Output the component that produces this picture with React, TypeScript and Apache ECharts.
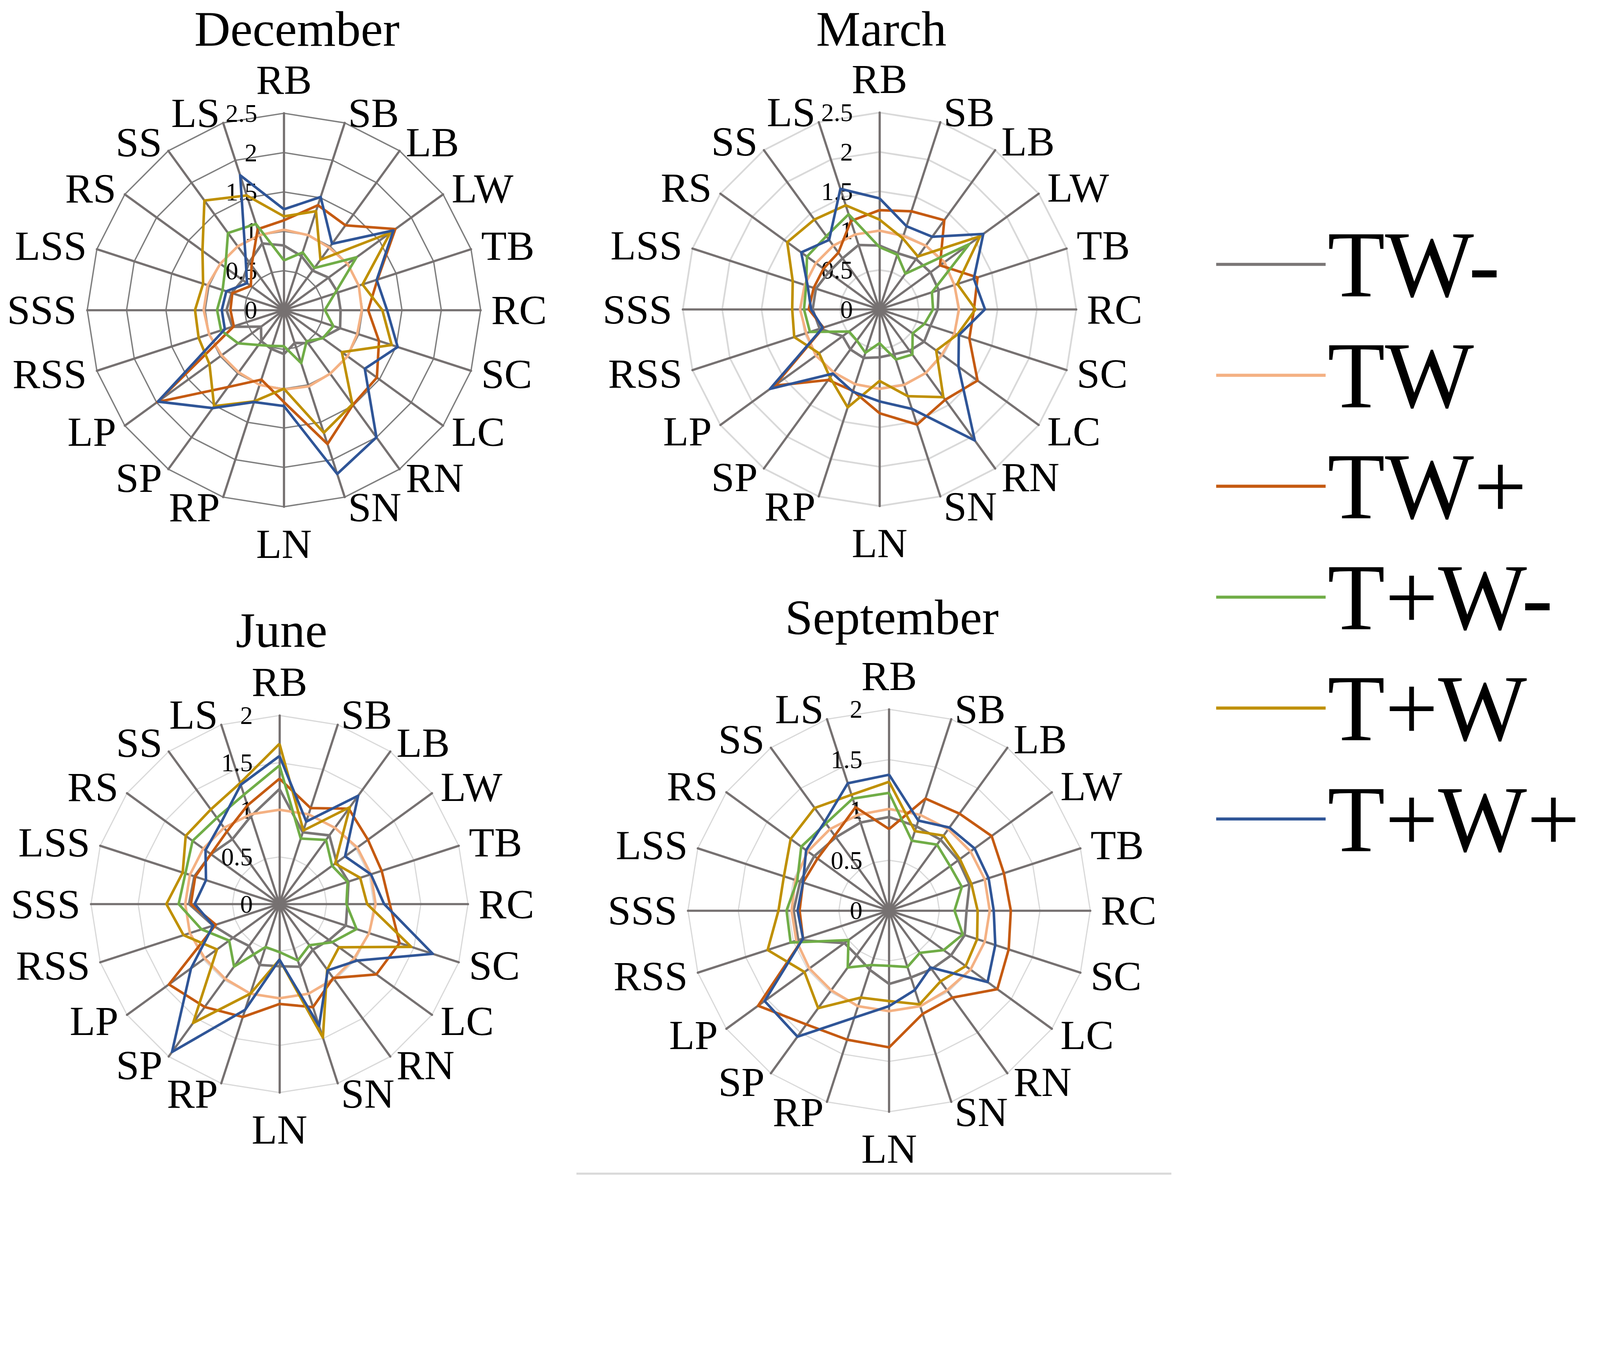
import React, { useEffect, useRef } from "react";
import * as echarts from "echarts";

// Axis categories, clockwise from the top
const axesCW = ["RB", "SB", "LB", "LW", "TB", "RC", "SC", "LC", "RN", "SN", "LN", "RP", "SP", "LP", "RSS", "SSS", "LSS", "RS", "SS", "LS"];
const seriesNames = ["TW-", "TW", "TW+", "T+W-", "T+W", "T+W+"];
const seriesColors = ["#7A7676", "#F4B183", "#C55A11", "#70AD47", "#BF9000", "#2F5597"];
const monthTitles = ["December", "March", "June", "September"];
const monthMax = [2.5, 2.5, 2, 2];

// December
const decTWm = [0.82, 0.72, 0.62, 0.70, 0.72, 0.72, 0.75, 0.60, 0.52, 0.44, 0.56, 0.52, 0.49, 0.36, 0.69, 0.73, 0.70, 0.65, 0.75, 0.89];
const decTW = [1.02, 1.0, 0.98, 1.0, 1.0, 0.99, 0.98, 1.0, 1.0, 1.02, 1.01, 1.0, 0.98, 0.98, 1.0, 1.02, 1.02, 1.0, 1.0, 1.0];
const decTWp = [1.14, 1.40, 1.33, 1.75, 1.25, 1.07, 1.27, 1.46, 1.49, 1.79, 1.17, 0.93, 1.21, 1.99, 0.67, 0.68, 0.69, 0.52, 0.70, 1.08];
const decTpWm = [0.63, 0.77, 0.66, 1.14, 0.68, 0.52, 0.66, 0.61, 0.49, 0.71, 0.46, 0.48, 0.55, 0.72, 0.84, 0.85, 0.82, 0.92, 1.21, 1.15];
const decTpW = [1.19, 1.32, 0.79, 1.67, 1.05, 1.25, 1.44, 0.91, 1.48, 1.64, 1.00, 1.22, 1.51, 1.17, 1.14, 1.13, 1.08, 1.28, 1.72, 1.53];
const decTpWp = [1.28, 1.51, 1.04, 1.72, 1.24, 1.31, 1.52, 1.27, 2.00, 2.19, 1.22, 1.23, 1.54, 1.98, 0.79, 0.79, 0.77, 0.58, 0.83, 1.80];

// March
const marTWm = [0.81, 0.75, 0.79, 0.80, 0.79, 0.74, 0.68, 0.70, 0.65, 0.60, 0.61, 0.65, 0.63, 0.58, 0.80, 0.85, 0.85, 0.80, 0.80, 0.86];
const marTW = [1.0, 0.98, 1.0, 1.02, 1.0, 1.01, 1.0, 0.98, 1.0, 1.01, 1.01, 1.0, 0.99, 1.0, 0.98, 1.01, 1.0, 1.0, 1.0, 1.0];
const marTWp = [1.26, 1.31, 1.40, 0.95, 1.31, 1.20, 1.20, 1.54, 1.42, 1.54, 1.32, 1.09, 1.11, 1.65, 0.75, 0.90, 0.88, 0.88, 0.89, 1.18];
const marTpWm = [0.79, 0.73, 0.56, 1.41, 0.70, 0.68, 0.60, 0.52, 0.71, 0.67, 0.43, 0.58, 0.49, 0.48, 0.93, 0.96, 0.98, 1.14, 1.15, 1.27];
const marTpW = [1.14, 0.95, 0.83, 1.58, 1.04, 1.22, 1.04, 0.89, 1.38, 1.16, 0.91, 1.31, 1.07, 0.95, 1.14, 1.11, 1.16, 1.45, 1.41, 1.39];
const marTpWp = [1.41, 1.11, 1.14, 1.63, 1.26, 1.34, 1.06, 1.24, 2.06, 1.33, 1.17, 1.10, 1.01, 1.72, 0.76, 0.87, 0.96, 1.23, 1.09, 1.61];

// June
const junTWm = [1.22, 0.80, 0.90, 0.75, 0.77, 0.72, 0.74, 0.65, 0.60, 0.70, 0.66, 0.68, 0.55, 0.61, 0.74, 0.96, 0.95, 0.90, 0.85, 0.98];
const junTW = [1.0, 1.0, 1.0, 1.02, 1.02, 1.02, 1.0, 0.98, 0.98, 1.0, 1.0, 1.0, 0.98, 0.98, 1.0, 1.0, 1.0, 1.0, 1.0, 1.0];
const junTWp = [1.33, 1.07, 1.25, 1.16, 1.14, 1.17, 1.34, 1.27, 0.97, 1.15, 1.06, 1.26, 1.35, 1.45, 0.71, 0.94, 0.94, 0.90, 0.95, 1.10];
const junTpWm = [1.47, 0.73, 0.84, 0.69, 0.76, 0.71, 0.86, 0.69, 0.54, 0.63, 0.51, 0.48, 0.82, 0.66, 0.87, 1.07, 1.05, 1.14, 1.13, 1.22];
const junTpW = [1.70, 0.82, 1.27, 0.73, 0.90, 0.93, 1.47, 0.78, 0.86, 1.49, 0.59, 1.00, 1.56, 0.82, 1.07, 1.20, 1.08, 1.23, 1.24, 1.35];
const junTpWp = [1.57, 0.92, 1.42, 0.86, 1.02, 1.11, 1.71, 1.02, 0.87, 1.36, 0.59, 1.18, 1.94, 1.16, 0.74, 0.90, 0.82, 0.97, 1.06, 1.33];

// September
const sepTWm = [0.93, 0.88, 0.87, 0.85, 0.84, 0.77, 0.79, 0.76, 0.72, 0.70, 0.73, 0.62, 0.55, 0.55, 0.95, 0.95, 0.93, 0.92, 0.90, 0.92];
const sepTW = [1.01, 1.0, 1.0, 1.0, 1.0, 1.0, 1.0, 1.0, 0.98, 1.0, 1.0, 1.0, 0.98, 0.98, 0.97, 0.97, 0.98, 1.0, 1.0, 1.0];
const sepTWp = [0.81, 1.17, 1.19, 1.26, 1.20, 1.21, 1.25, 1.33, 1.07, 1.08, 1.36, 1.35, 1.40, 1.61, 0.90, 0.89, 0.90, 0.88, 0.92, 1.08];
const sepTpWm = [1.17, 0.73, 0.81, 0.75, 0.76, 0.65, 0.77, 0.67, 0.52, 0.59, 0.55, 0.57, 0.70, 0.50, 1.03, 1.02, 0.96, 1.08, 1.07, 1.17];
const sepTpW = [1.28, 0.83, 0.92, 0.87, 0.86, 0.88, 0.92, 0.94, 0.87, 0.98, 0.90, 0.91, 1.20, 1.04, 1.27, 1.10, 1.10, 1.21, 1.26, 1.21];
const sepTpWp = [1.35, 0.94, 1.02, 1.05, 1.04, 1.04, 1.11, 1.21, 0.70, 0.83, 0.95, 1.12, 1.55, 1.53, 0.90, 0.91, 0.90, 1.02, 1.09, 1.33];

const monthData = [
  [decTWm, decTW, decTWp, decTpWm, decTpW, decTpWp],
  [marTWm, marTW, marTWp, marTpWm, marTpW, marTpWp],
  [junTWm, junTW, junTWp, junTpWm, junTpW, junTpWp],
  [sepTWm, sepTW, sepTWp, sepTpWm, sepTpW, sepTpWp],
];

// Layout, in pixels of the 4677 x 3445 target
const W = 4677;
const H = 3445;
const FONT = "'Liberation Serif', 'Times New Roman', serif";
const panels = [
  { cx: 830, cy: 906, r: 575, titleX: 868, titleY: 34, ring: "#7F7F7F", ringW: 4 },
  { cx: 2571, cy: 904, r: 575, titleX: 2576, titleY: 34, ring: "#D9D9D9", ringW: 5 },
  { cx: 817, cy: 2642, r: 551, titleX: 823, titleY: 1792, ring: "#D9D9D9", ringW: 3.5 },
  { cx: 2599, cy: 2661, r: 588, titleX: 2607, titleY: 1754, ring: "#D9D9D9", ringW: 3.5 },
];
const spokeColor = "#767171";

// ECharts radar runs counter-clockwise; reorder so the drawing runs clockwise
const ccw = <T,>(arr: T[]): T[] => [arr[0], ...arr.slice(1).reverse()];

function getScale() {
  if (typeof window === "undefined" || !window.innerWidth) return 1;
  return window.innerWidth / W;
}

export default function App() {
  const ref = useRef<HTMLDivElement>(null);
  const s = getScale();
  useEffect(() => {
    document.body.style.margin = "0";
    document.body.style.overflow = "hidden";
    if (!ref.current) return;
    const chart = echarts.init(ref.current, undefined, { renderer: "svg" });

    const radar = panels.map((p, i) => ({
      center: [p.cx * s, p.cy * s],
      radius: p.r * s,
      startAngle: 90,
      shape: "polygon",
      splitNumber: monthMax[i] === 2.5 ? 5 : 4,
      nameGap: 31 * s,
      axisName: { color: "#000", fontSize: 122 * s, fontFamily: FONT },
      axisLine: { show: true, lineStyle: { color: spokeColor, width: 6.5 * s } },
      splitLine: { show: true, lineStyle: { color: p.ring, width: p.ringW * s } },
      splitArea: { show: false },
      axisTick: { show: false },
      axisLabel: { show: false },
      indicator: ccw(axesCW).map((name) => {
        const ind: any = { name, min: 0, max: monthMax[i] };
        ind.nameGap = (name === "RB" ? 32 : name === "LN" ? 47 : 31) * s;
        if (name === "RB") {
          ind.axisLabel = { show: true, color: "#000", fontSize: 74 * s, fontFamily: FONT, margin: 78 * s };
        }
        return ind;
      }),
    }));

    const series = monthData.map((vals, i) => ({
      type: "radar",
      radarIndex: i,
      symbol: "none",
      silent: true,
      data: seriesNames.map((n, k) => ({
        name: n,
        value: ccw(vals[k]),
        lineStyle: { color: seriesColors[k], width: 7.5 * s },
        itemStyle: { color: seriesColors[k] },
      })),
    }));

    const graphic: any[] = panels.map((p, i) => ({
      type: "text",
      x: p.titleX * s,
      y: p.titleY * s,
      style: {
        text: monthTitles[i],
        fill: "#000",
        font: `${146 * s}px ${FONT}`,
        lineHeight: 100 * s,
        align: "center",
        verticalAlign: "top",
      },
    }));
    graphic.push({
      type: "line",
      shape: { x1: 1685 * s, y1: 3430 * s, x2: 3424 * s, y2: 3430 * s },
      style: { stroke: "#D9D9D9", lineWidth: 6 * s },
    });

    chart.setOption({
      animation: false,
      backgroundColor: "#fff",
      textStyle: { fontFamily: FONT },
      legend: {
        orient: "vertical",
        left: 3550 * s,
        top: 630 * s,
        padding: 5 * s,
        icon: "rect",
        itemWidth: 320 * s,
        itemHeight: 9 * s,
        itemGap: 49 * s,
        selectedMode: false,
        data: seriesNames,
        textStyle: { fontSize: 275 * s, lineHeight: 270 * s, fontFamily: FONT, color: "#000" },
      },
      radar,
      series,
      graphic,
    });
    return () => chart.dispose();
  }, [s]);
  return <div ref={ref} style={{ width: Math.floor(W * s), height: Math.floor(H * s) }} />;
}
